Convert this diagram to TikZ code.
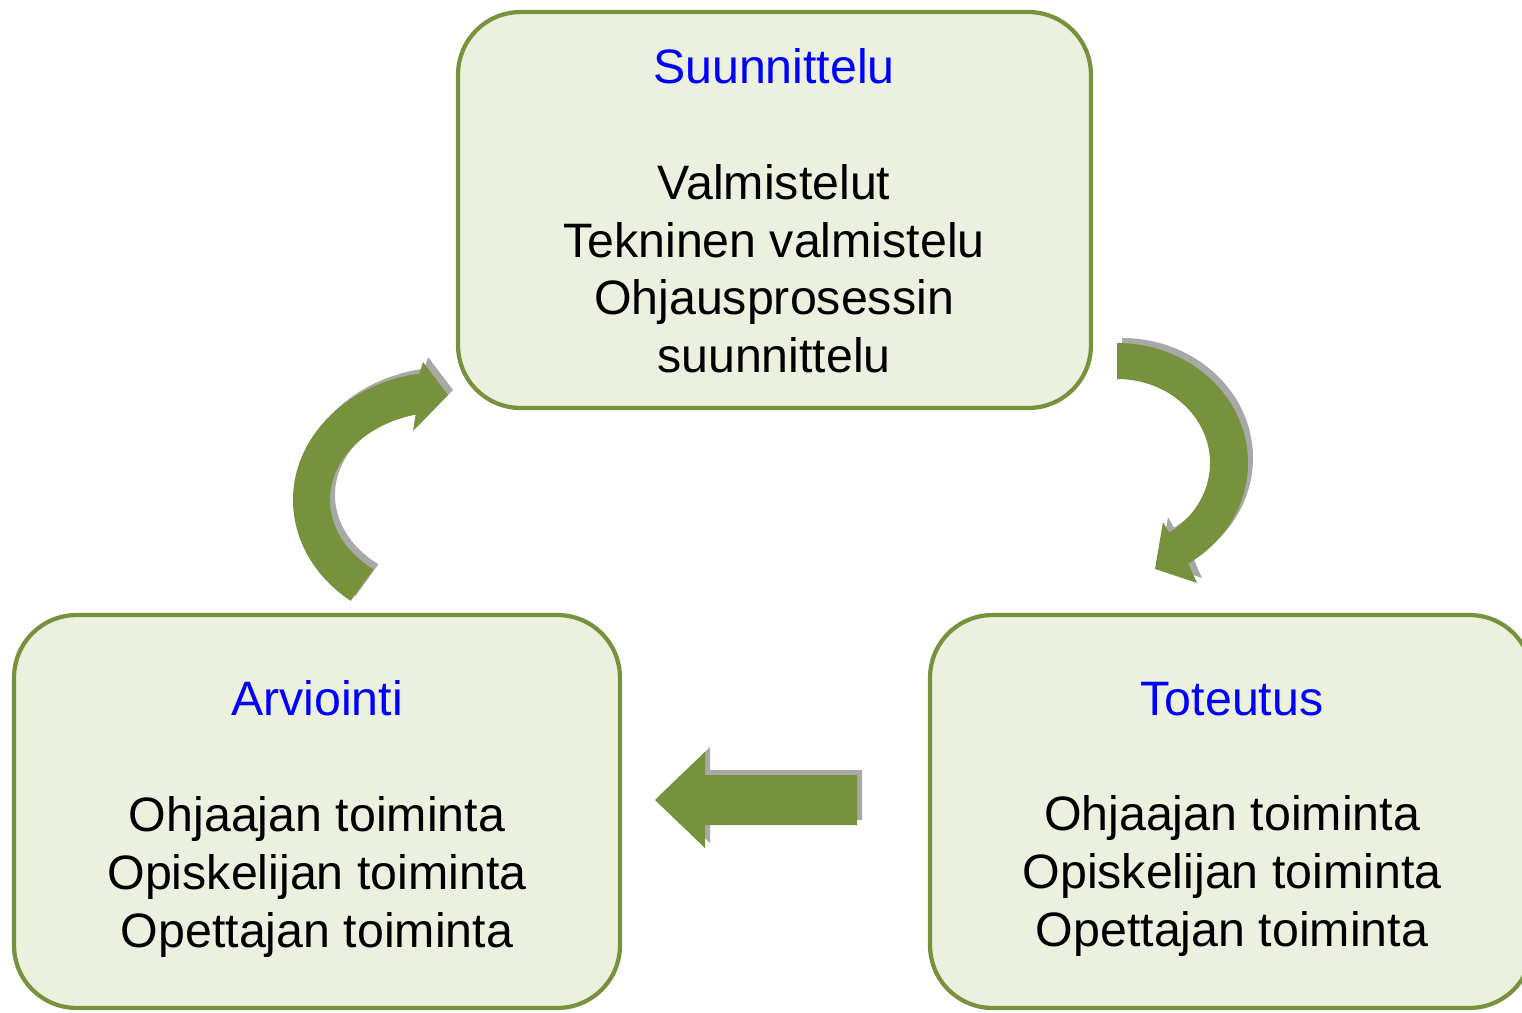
\documentclass[tikz,border=0pt]{standalone}
\usepackage{fontspec}
\setmainfont{Liberation Sans}
\usetikzlibrary{calc}
\definecolor{leafgreen}{HTML}{76923C}
\definecolor{boxfill}{HTML}{EBF0DF}
\definecolor{shadowgray}{HTML}{A8A8A8}
\begin{document}
\begin{tikzpicture}
    [x=0.02cm, y=-0.02cm,
    phase/.style={draw=leafgreen, fill=boxfill, line width=2.4pt, rounded corners=1.25cm},
    phasetext/.style={align=center, font=\fontsize{27.5}{32.9}\selectfont}]
    % \draw[help lines] (0,0) grid[step=100] (1522,1013);
    \clip (0,0) rectangle (1522,1013);
    \node[phase, minimum width=12.66cm, minimum height=7.92cm] (plan) at (774.5, 210) {};
    \node[phase, minimum width=12.12cm, minimum height=7.86cm] (eval) at (317, 811.5) {};
    \node[phase, minimum width=12.04cm, minimum height=7.86cm] (impl) at (1231, 811.5) {};
    %
    \node[phasetext] (plantext) at (774, 211) {{\color{blue}Suunnittelu}\\[32.9pt]
        Valmistelut\\ Tekninen valmistelu\\ Ohjausprosessin\\ suunnittelu};
    \node[phasetext] (evaltext) at (317, 819) {{\color{blue}Arviointi}\\[32.9pt]
        Ohjaajan toiminta\\ Opiskelijan toiminta\\ Opettajan toiminta};
    \node[phasetext] (impltext) at (1232, 819) {{\color{blue}Toteutus}\\[32.9pt]
        Ohjaajan toiminta\\ Opiskelijan toiminta\\ Opettajan toiminta};
    %
    \foreach \col/\dx/\dy in {shadowgray/5/-5, leafgreen/0/0} {
        % suunnittelu -> toteutus
        \fill[\col, shift={(\dx,\dy)}] (1117,463) ++(270:131 and 120)
            arc[start angle=270, end angle=417, x radius=131, y radius=120]
            -- (1197,583) -- (1155,569) -- (1163,522)
            -- ($(1117,463)+(416:93 and 84)$)
            arc[start angle=416, end angle=270, x radius=93, y radius=84] -- cycle;
        % toteutus -> arviointi
        \fill[\col, shift={(\dx,\dy)}] (857,775) -- (705,775) -- (705,752) -- (655,800)
            -- (705,848) -- (705,825) -- (857,825) -- cycle;
        % arviointi -> suunnittelu
        \fill[\col, shift={(\dx,\dy)}] (443,500) ++(128:150 and 128)
            arc[start angle=128, end angle=261, x radius=150, y radius=128]
            -- (423,362) -- (448,395) -- (413,431)
            -- ($(443,500)+(256:113 and 88)$)
            arc[start angle=256, end angle=128, x radius=113, y radius=88] -- cycle;
    }
\end{tikzpicture}
\end{document}
